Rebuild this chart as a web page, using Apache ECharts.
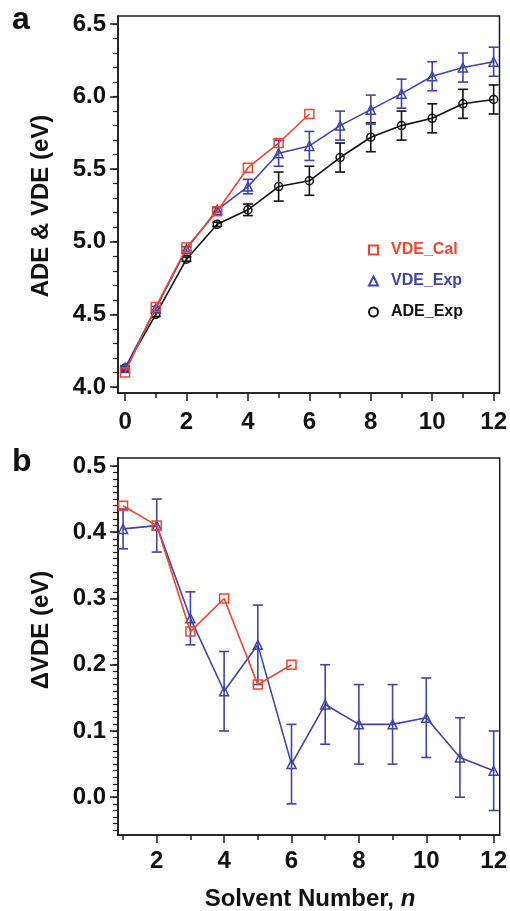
<!DOCTYPE html>
<html><head><meta charset="utf-8">
<script src="https://cdn.jsdelivr.net/npm/echarts@6/dist/echarts.min.js"></script>
<style>html,body{margin:0;padding:0;background:#fff}#c{width:510px;height:911px}</style>
</head><body><div id="c"></div><script>
// ---- Panel a data ----
const nA = [0,1,2,3,4,5,6,7,8,9,10,11,12];
const nCalA = [0,1,2,3,4,5,6];
const vdeCal = [4.10,4.55,4.96,5.21,5.51,5.68,5.88];
const vdeExp = [4.13,4.54,4.95,5.22,5.38,5.61,5.66,5.80,5.91,6.02,6.14,6.20,6.24];
const vdeExpErr = [0.015,0.015,0.015,0.015,0.05,0.09,0.10,0.10,0.10,0.10,0.10,0.10,0.10];
const adeExp = [4.13,4.50,4.88,5.12,5.22,5.38,5.42,5.58,5.72,5.80,5.85,5.95,5.98];
const adeExpErr = [0.015,0.015,0.015,0.015,0.04,0.10,0.10,0.10,0.10,0.10,0.10,0.10,0.10];
// ---- Panel b data ----
const nB = [1,2,3,4,5,6,7,8,9,10,11,12];
const nCalB = [1,2,3,4,5,6];
const dvdeCal = [0.44,0.41,0.25,0.30,0.17,0.20];
const dvdeExp = [0.405,0.41,0.27,0.16,0.23,0.05,0.14,0.11,0.11,0.12,0.06,0.04];
const dvdeExpErr = [0.03,0.04,0.04,0.06,0.06,0.06,0.06,0.06,0.06,0.06,0.06,0.06];
// ---- Ticks ----
const xTicksA = [0,2,4,6,8,10,12];
const xMinorA = [1,3,5,7,9,11];
const xTicksB = [2,4,6,8,10,12];
const xMinorB = [1,3,5,7,9,11];
const yTicksA = [4.0,4.5,5.0,5.5,6.0,6.5];
const yTicksB = [0.0,0.1,0.2,0.3,0.4,0.5];
const yMinorA = []; for (let i = 40; i <= 65; i++) yMinorA.push(+(i/10).toFixed(1));
const yMinorB = []; for (let i = -5; i <= 50; i++) yMinorB.push(+(i/100).toFixed(2));

const RED = '#ef4430', BLUE = '#3f44a6', BLACK = '#111';
const FONT = 'Liberation Sans, Arial, Helvetica, sans-serif';
const AX = '#1a1a1a';

function xAxes(grid, min, max, major, minor, labelMargin) {
  return [
    {type:'value', gridIndex:grid, min, max, position:'bottom',
     axisLine:{show:true, onZero:false, lineStyle:{color:AX, width:1.5}},
     axisTick:{show:true, inside:false, length:8, customValues:major, lineStyle:{color:AX, width:1.5}},
     axisLabel:{show:true, customValues:major, margin:labelMargin, color:'#111', fontSize:24, fontWeight:'bold', fontFamily:FONT},
     splitLine:{show:false}},
    {type:'value', gridIndex:grid, min, max, position:'bottom',
     axisLine:{show:false, onZero:false},
     axisTick:{show:true, length:5, customValues:minor, lineStyle:{color:AX, width:1.5}},
     axisLabel:{show:false}, splitLine:{show:false}}
  ];
}
function yAxes(grid, min, max, major, minor) {
  return [
    {type:'value', gridIndex:grid, min, max, position:'left',
     axisLine:{show:true, onZero:false, lineStyle:{color:AX, width:1.5}},
     axisTick:{show:true, length:8, customValues:major, lineStyle:{color:AX, width:1.5}},
     axisLabel:{show:true, customValues:major, margin:12, color:'#111', fontSize:24, fontWeight:'bold', fontFamily:FONT,
       formatter:v => v.toFixed(1)},
     splitLine:{show:false}},
    {type:'value', gridIndex:grid, min, max, position:'left',
     axisLine:{show:false, onZero:false},
     axisTick:{show:true, length:5, customValues:minor, lineStyle:{color:AX, width:1.2}},
     axisLabel:{show:false}, splitLine:{show:false}}
  ];
}
function lineSeries(name, xs, ys, color, symbol, size, xi, yi, z) {
  return {type:'line', name, xAxisIndex:xi, yAxisIndex:yi, data:xs.map((x,i)=>[x, ys[i]]),
    symbol, symbolSize:size, showSymbol:true,
    itemStyle:{color:'rgba(255,255,255,0)', borderColor:color, borderWidth:1.5},
    lineStyle:{color, width:1.6}, z, animation:false};
}
function errSeries(name, xs, ys, es, color, xi, yi, z) {
  return {type:'custom', name, xAxisIndex:xi, yAxisIndex:yi, silent:true, z, animation:false,
    data: xs.map((x,i)=>[x, ys[i]-es[i], ys[i]+es[i]]),
    encode:{x:0, y:[1,2]},
    renderItem(params, api) {
      const x = api.value(0);
      const lo = api.coord([x, api.value(1)]);
      const hi = api.coord([x, api.value(2)]);
      const w = 5;
      const st = {stroke:color, lineWidth:1.6};
      return {type:'group', children:[
        {type:'line', shape:{x1:lo[0], y1:lo[1], x2:hi[0], y2:hi[1]}, style:st},
        {type:'line', shape:{x1:lo[0]-w, y1:lo[1], x2:lo[0]+w, y2:lo[1]}, style:st},
        {type:'line', shape:{x1:hi[0]-w, y1:hi[1], x2:hi[0]+w, y2:hi[1]}, style:st}
      ]};
    }};
}

const chart = echarts.init(document.getElementById('c'), null, {renderer:'canvas'});
chart.setOption({
  backgroundColor:'#fff',
  animation:false,
  textStyle:{fontFamily:FONT},
  grid:[
    {left:118, top:16, width:384, height:377, show:true, borderColor:AX, borderWidth:1.5, backgroundColor:'transparent'},
    {left:118, top:458, width:384, height:377, show:true, borderColor:AX, borderWidth:1.5, backgroundColor:'transparent'}
  ],
  xAxis:[
    ...xAxes(0, -0.23, 12.19, xTicksA, xMinorA, 17),
    ...xAxes(1, 0.85, 12.18, xTicksB, xMinorB, 14)
  ],
  yAxis:[
    ...yAxes(0, 3.958, 6.555, yTicksA, yMinorA),
    ...yAxes(1, -0.057, 0.512, yTicksB, yMinorB)
  ],
  legend:{
    orient:'vertical', left:363, top:237, itemWidth:9, itemHeight:9, itemGap:15,
    selectedMode:false,
    textStyle:{fontSize:16, fontWeight:'bold', fontFamily:FONT, padding:[0,0,0,8]},
    data:[
      {name:'VDE_Cal', icon:'emptyRect', itemStyle:{color:RED, borderColor:RED}, textStyle:{color:RED}},
      {name:'VDE_Exp', icon:'emptyTriangle', itemStyle:{color:BLUE, borderColor:BLUE}, textStyle:{color:BLUE}},
      {name:'ADE_Exp', icon:'emptyCircle', itemStyle:{color:BLACK, borderColor:BLACK}, textStyle:{color:BLACK}}
    ]
  },
  title:[
    {text:'a', left:12, top:4, padding:0, textStyle:{fontSize:32, fontWeight:'bold', fontFamily:FONT, color:'#111'}},
    {text:'b', left:12, top:446, padding:0, textStyle:{fontSize:32, fontWeight:'bold', fontFamily:FONT, color:'#111'}}
  ],
  graphic:[
    {type:'text', x:41, y:206, rotation:Math.PI/2, style:{text:'ADE & VDE (eV)', align:'center', verticalAlign:'middle',
      font:'bold 24px ' + FONT, fill:'#111'}},
    {type:'text', x:41, y:630, rotation:Math.PI/2, style:{text:'\u0394VDE (eV)', align:'center', verticalAlign:'middle',
      font:'bold 24px ' + FONT, fill:'#111'}},
    {type:'text', x:310, y:899, style:{text:'{b|Solvent Number, }{i|n}', align:'center', verticalAlign:'middle',
      rich:{b:{font:'bold 24px ' + FONT, fill:'#111'}, i:{font:'italic bold 24px ' + FONT, fill:'#111'}}}}
  ],
  series:[
    errSeries('ADE_Exp_err', nA, adeExp, adeExpErr, BLACK, 0, 0, 2),
    lineSeries('ADE_Exp', nA, adeExp, BLACK, 'circle', 8, 0, 0, 3),
    errSeries('VDE_Exp_err', nA, vdeExp, vdeExpErr, BLUE, 0, 0, 4),
    lineSeries('VDE_Exp', nA, vdeExp, BLUE, 'triangle', 9, 0, 0, 5),
    lineSeries('VDE_Cal', nCalA, vdeCal, RED, 'rect', 9, 0, 0, 6),
    errSeries('dVDE_Exp_err', nB, dvdeExp, dvdeExpErr, BLUE, 2, 2, 4),
    lineSeries('dVDE_Exp', nB, dvdeExp, BLUE, 'triangle', 9, 2, 2, 5),
    lineSeries('dVDE_Cal', nCalB, dvdeCal, RED, 'rect', 9, 2, 2, 6)
  ]
});
</script></body></html>
